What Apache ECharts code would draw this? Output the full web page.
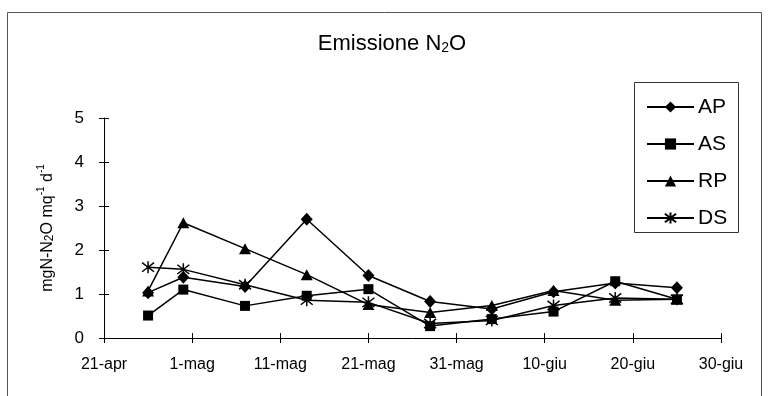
<!DOCTYPE html>
<html><head><meta charset="utf-8">
<script src="https://cdn.jsdelivr.net/npm/echarts@6/dist/echarts.min.js"></script>
<style>html,body{margin:0;padding:0;background:#fff}#c{width:768px;height:396px}</style>
</head><body><div id="c"></div>
<script>
// Sampling dates expressed as days after 21-apr
const sampleDays = [5, 9, 16, 23, 30, 37, 44, 51, 58, 65];
const xTickLabels = ['21-apr', '1-mag', '11-mag', '21-mag', '31-mag', '10-giu', '20-giu', '30-giu'];
const yTickLabels = ['0', '1', '2', '3', '4', '5'];
const seriesNames = ['AP', 'AS', 'RP', 'DS'];
const AP = [1.03, 1.38, 1.17, 2.70, 1.42, 0.83, 0.66, 1.05, 1.25, 1.14];
const AS = [0.51, 1.10, 0.73, 0.96, 1.11, 0.27, 0.43, 0.60, 1.29, 0.88];
const RP = [1.07, 2.62, 2.03, 1.44, 0.76, 0.58, 0.74, 1.08, 0.86, 0.88];
const DS = [1.61, 1.56, 1.21, 0.86, 0.81, 0.33, 0.40, 0.74, 0.91, 0.88];

const FONT = 'Liberation Sans, Arial, sans-serif';
const pairs = vals => vals.map((v, i) => [sampleDays[i], v]);
const starPath = 'path://M0,0 L10,10 M10,0 L0,10 M5,-1.5 L5,11.5';
const markerDefs = {
  AP: { symbol: 'diamond', symbolSize: [12, 13] },
  AS: { symbol: 'rect', symbolSize: 10 },
  RP: { symbol: 'triangle', symbolSize: [12, 11] },
  DS: { symbol: starPath, symbolSize: 12 }
};
const values = { AP, AS, RP, DS };

const chart = echarts.init(document.getElementById('c'), null, { renderer: 'canvas' });
const xBase = { type: 'value', min: 0, max: 70, interval: 10, position: 'bottom', gridIndex: 0, splitLine: { show: false } };
const yBase = { type: 'value', min: 0, max: 5, interval: 1, position: 'left', gridIndex: 0, splitLine: { show: false } };

chart.setOption({
  animation: false,
  backgroundColor: '#fff',
  grid: { left: 104, right: 47, top: 118, bottom: 58, containLabel: false },
  xAxis: [
    Object.assign({}, xBase, {
      axisLine: { show: true, lineStyle: { color: '#000', width: 1 } },
      axisTick: { show: true, inside: false, length: 5, lineStyle: { color: '#000' } },
      axisLabel: { show: true, margin: 19, color: '#000', fontSize: 16, fontFamily: FONT,
        formatter: v => xTickLabels[Math.round(v / 10)] }
    }),
    Object.assign({}, xBase, {
      axisLine: { show: false },
      axisTick: { show: true, inside: true, length: 5, lineStyle: { color: '#000' } },
      axisLabel: { show: false }
    })
  ],
  yAxis: [
    Object.assign({}, yBase, {
      axisLine: { show: true, lineStyle: { color: '#000', width: 1 } },
      axisTick: { show: true, inside: false, length: 5, lineStyle: { color: '#000' } },
      axisLabel: { show: true, margin: 20, color: '#000', fontSize: 17, fontFamily: FONT,
        formatter: v => yTickLabels[Math.round(v)] },
      name: '{a|mgN-N}{s|2}{a|O mq}{p|-1}{a| d}{p|-1}',
      nameLocation: 'middle',
      nameRotate: 90,
      nameGap: 48,
      nameTextStyle: {
        color: '#000', fontFamily: FONT,
        rich: {
          a: { fontSize: 16, lineHeight: 20, color: '#000', fontFamily: FONT, verticalAlign: 'bottom' },
          s: { fontSize: 12, lineHeight: 14, color: '#000', fontFamily: FONT, verticalAlign: 'bottom' },
          p: { fontSize: 10, lineHeight: 10, color: '#000', fontFamily: FONT, verticalAlign: 'top' }
        }
      }
    }),
    Object.assign({}, yBase, {
      axisLine: { show: false },
      axisTick: { show: true, inside: true, length: 5, lineStyle: { color: '#000' } },
      axisLabel: { show: false }
    })
  ],
  legend: {
    orient: 'vertical',
    left: 641, top: 91,
    itemWidth: 47, itemHeight: 14, itemGap: 15,
    selectedMode: false,
    data: seriesNames,
    textStyle: { color: '#000', fontSize: 21, lineHeight: 22, fontFamily: FONT, padding: [0, 0, 0, -1] }
  },
  graphic: [
    { type: 'rect', shape: { x: 7.5, y: 12.5, width: 754, height: 400 }, style: { fill: 'none', stroke: '#555', lineWidth: 1 }, silent: true, z: -1 },
    { type: 'rect', shape: { x: 634.5, y: 82.5, width: 104, height: 150 }, style: { fill: '#fff', stroke: '#333', lineWidth: 1 }, silent: true, z: -1 },
    { type: 'text', x: 392, y: 42, style: {
        text: '{a|Emissione N}{s|2}{a|O}', align: 'center', verticalAlign: 'middle',
        rich: {
          a: { fontSize: 22, lineHeight: 26, fill: '#000', fontFamily: FONT, verticalAlign: 'bottom' },
          s: { fontSize: 14, lineHeight: 17, fill: '#000', fontFamily: FONT, verticalAlign: 'bottom' }
        } }, silent: true }
  ],
  series: seriesNames.map(n => ({
    name: n, type: 'line',
    data: pairs(values[n]),
    symbol: markerDefs[n].symbol,
    symbolSize: markerDefs[n].symbolSize,
    showAllSymbol: true,
    lineStyle: { color: '#000', width: 1.5 },
    itemStyle: { color: '#000', borderColor: '#000', borderWidth: n === 'DS' ? 1.5 : 0 },
    emphasis: { disabled: true }
  }))
});
</script></body></html>
